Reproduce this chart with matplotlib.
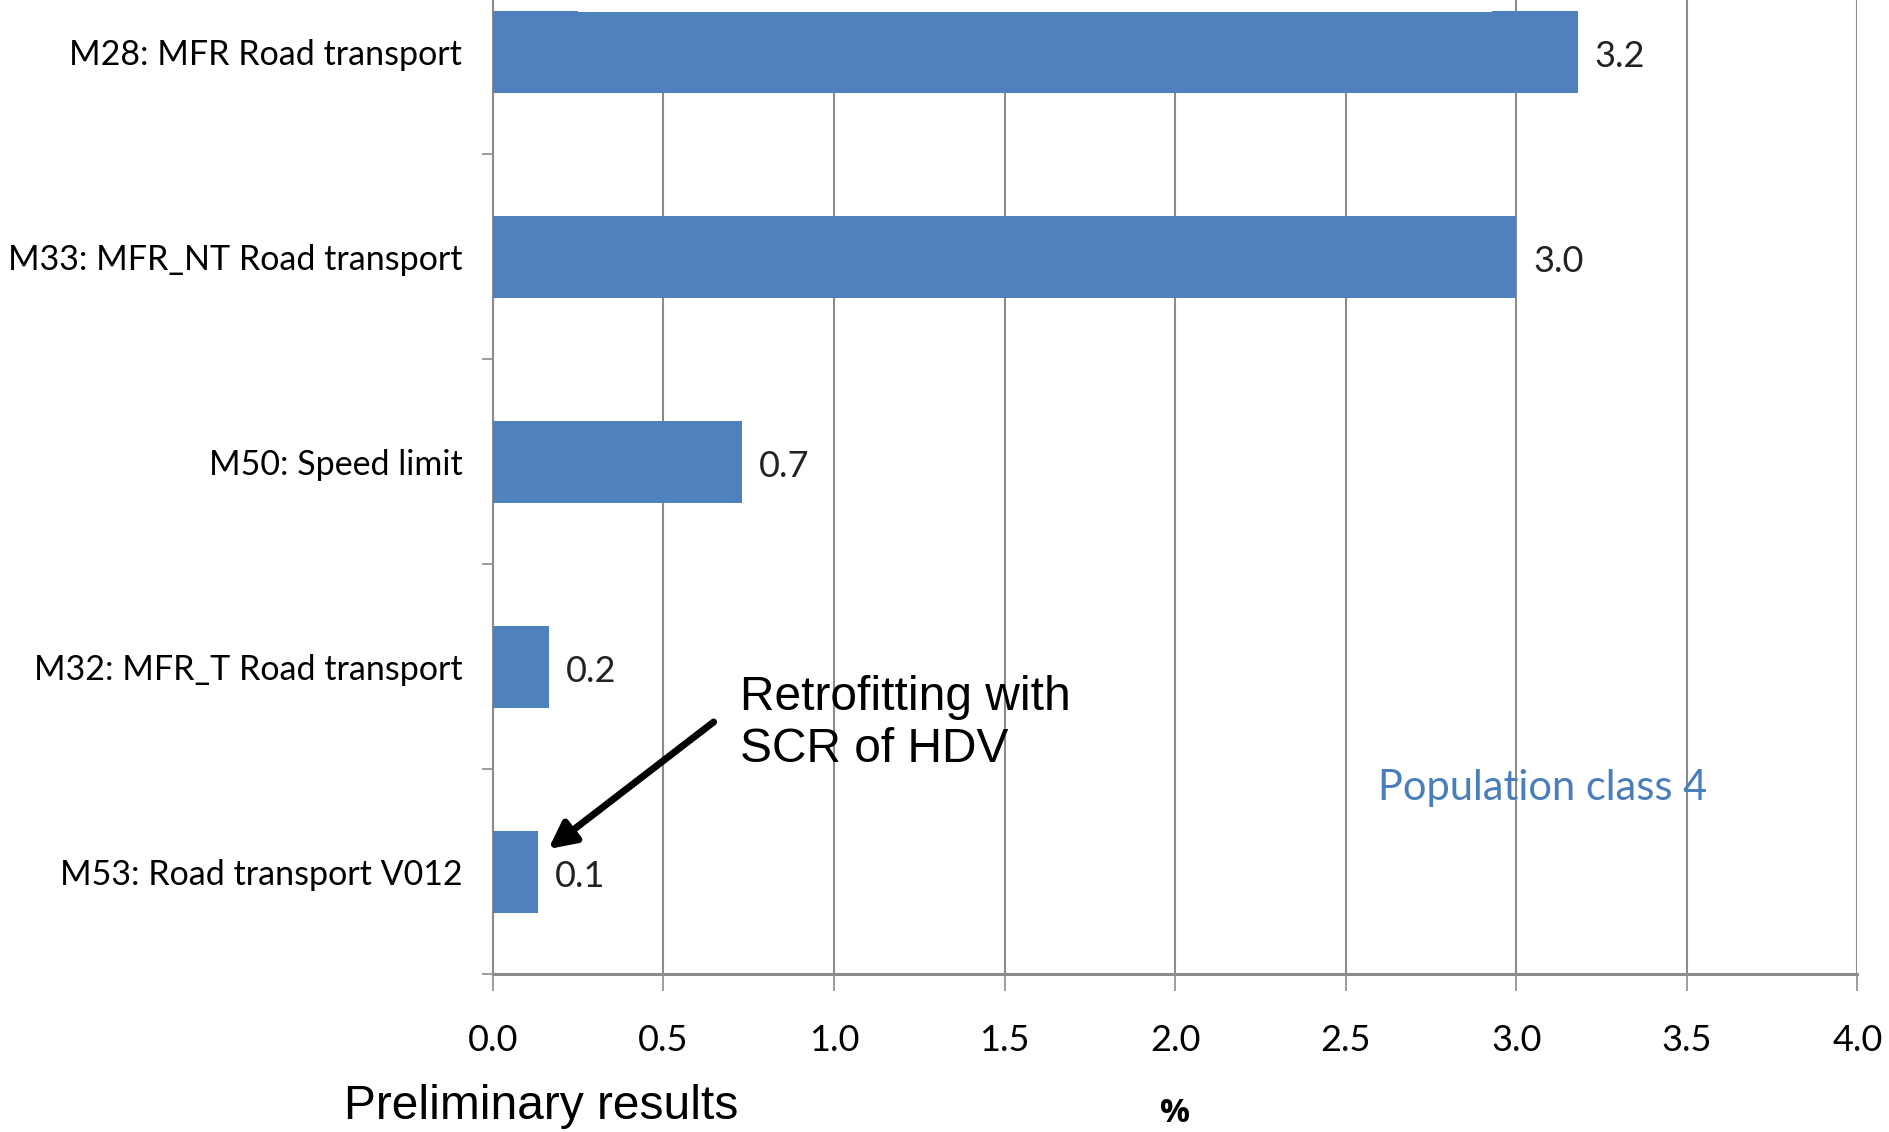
import matplotlib
matplotlib.use("Agg")
import matplotlib.pyplot as plt
from matplotlib.patches import Rectangle
import numpy as np

# データ
categories = ["M28: MFR Road transport", "M33: MFR_NT Road transport", "M50: Speed limit",
              "M32: MFR_T Road transport", "M53: Road transport V012"]
values = [3.18, 3.0, 0.73, 0.163, 0.131]
value_labels = ["3.2", "3.0", "0.7", "0.2", "0.1"]
xticks = [0.0, 0.5, 1.0, 1.5, 2.0, 2.5, 3.0, 3.5, 4.0]

bar_color = "#4F81BD"
grid_color = "#8c8c8c"
calibri_like = ["Lato", "DejaVu Sans"]

fig = plt.figure(figsize=(18.9, 11.32), dpi=100)
ax = fig.add_axes([0.2608, 0.1395, 0.722, 0.9052])

y = np.arange(len(categories))
ax.barh(y, values, height=0.4, color=bar_color, zorder=3)
ax.set_ylim(len(categories) - 0.5, -0.5)
ax.set_xlim(0, 4.0)

# 数値ラベル
for yi, v, lab in zip(y, values, value_labels):
    ax.text(v + 0.05, yi + 0.01, lab, va="center_baseline", ha="left", fontsize=26,
            family=calibri_like, color="#222222", zorder=4)

# 軸
ax.set_xticks(xticks)
ax.set_xticklabels([f"{t:.1f}" for t in xticks], family=calibri_like, fontsize=26)
ax.tick_params(axis="x", direction="out", length=12, width=1.2, color=grid_color, pad=24)
ax.set_yticks(y)
ax.set_yticklabels(categories, family=calibri_like, fontsize=24.5)
ax.tick_params(axis="y", which="major", length=0, pad=22)
ax.set_yticks(np.arange(-0.5, len(categories) + 0.5, 1.0), minor=True)
ax.tick_params(axis="y", which="minor", direction="out", length=8, width=1.2, color=grid_color)

ax.grid(axis="x", color=grid_color, linewidth=1.5, zorder=1)
ax.set_axisbelow(True)
for s in ["top", "right"]:
    ax.spines[s].set_visible(False)
ax.spines["left"].set_color(grid_color)
ax.spines["left"].set_linewidth(1.5)
ax.spines["bottom"].set_color(grid_color)
ax.spines["bottom"].set_linewidth(2.2)

# 注記
ax.annotate("", xy=(0.1625, 3.89), xytext=(0.647, 3.27),
            arrowprops=dict(arrowstyle="-|>", lw=5, color="black", mutation_scale=40,
                            shrinkA=0, shrinkB=0), zorder=5)
ax.text(0.724, 3.04, "Retrofitting with\nSCR of HDV", ha="left", va="top",
        fontsize=34.5, family="Liberation Sans", linespacing=1.2, zorder=5)
ax.text(2.594, 3.594, "Population class 4", ha="left", va="center",
        fontsize=30, family=calibri_like, color="#4A7EBB", zorder=2)

fig.text(0.1818, 0.0224, "Preliminary results", ha="left", va="center",
         fontsize=34.5, family="Liberation Sans")
fig.text(0.6218, 0.016, "%", ha="center", va="center", fontsize=24,
         family=["Open Sans", "DejaVu Sans"], fontweight="bold")

# 上部の白い枠（タイトルの切れ端）
fig.patches.append(Rectangle((0.306, 0.9894), 0.4835, 0.02, transform=fig.transFigure,
                             facecolor="white", edgecolor="none", zorder=10))

fig.savefig("out.png", dpi=100)
